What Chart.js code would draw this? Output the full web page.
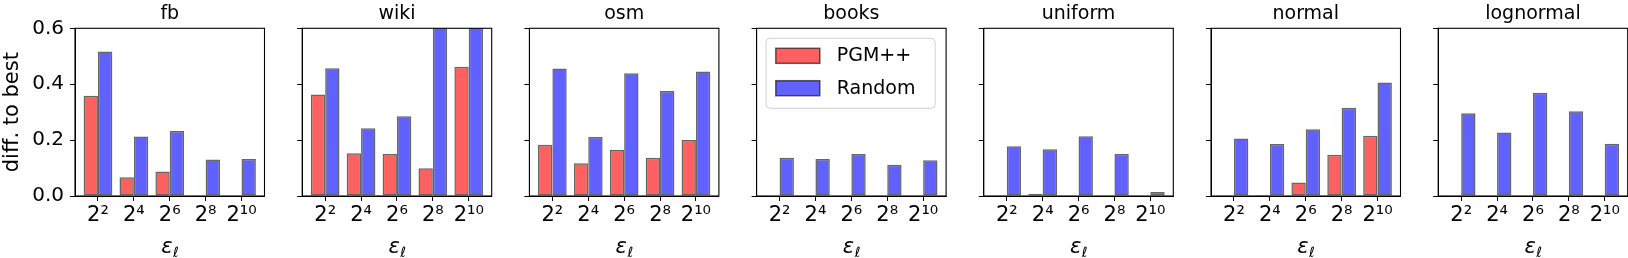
<!DOCTYPE html>
<html>
<head>
<meta charset="utf-8">
<script src="https://cdn.jsdelivr.net/npm/chart.js@4.4.0/dist/chart.umd.min.js"></script>
<style>
    html, body { margin: 0; padding: 0; background: #fff; overflow: hidden; }
    #wrap { position: relative; width: 1628px; height: 258px; overflow: hidden; }
    #wrap canvas { position: absolute; top: 0; }
</style>
</head>
<body>
<div id="wrap"></div>
<script>
// Data
const panelNames = ['fb', 'wiki', 'osm', 'books', 'uniform', 'normal', 'lognormal'];
const xTickLabels = ['2²', '2⁴', '2⁶', '2⁸', '2¹⁰'];
const yTickValues = [0, 0.2, 0.4, 0.6];
const seriesLabels = ['PGM++', 'Random'];

const pgmFb = [0.359, 0.067, 0.088, 0, 0];
const randomFb = [0.517, 0.213, 0.233, 0.131, 0.132];
const pgmWiki = [0.363, 0.153, 0.150, 0.099, 0.462];
const randomWiki = [0.457, 0.242, 0.285, 0.75, 0.8];
const pgmOsm = [0.183, 0.117, 0.165, 0.137, 0.200];
const randomOsm = [0.456, 0.211, 0.439, 0.376, 0.445];
const pgmBooks = [0, 0, 0, 0, 0];
const randomBooks = [0.137, 0.132, 0.150, 0.112, 0.128];
const pgmUniform = [0, 0.008, 0, 0, 0.002];
const randomUniform = [0.178, 0.167, 0.214, 0.150, 0.014];
const pgmNormal = [0, 0.004, 0.048, 0.148, 0.216];
const randomNormal = [0.206, 0.186, 0.239, 0.316, 0.406];
const pgmLognormal = [0, 0, 0, 0, 0];
const randomLognormal = [0.296, 0.227, 0.369, 0.303, 0.187];

const pgmSeries = [pgmFb, pgmWiki, pgmOsm, pgmBooks, pgmUniform, pgmNormal, pgmLognormal];
const randomSeries = [randomFb, randomWiki, randomOsm, randomBooks, randomUniform, randomNormal, randomLognormal];

// layout of the subplot grid
const PLOT_LEFT = 75;
const PLOT_STEP = 227.2;
const PLOT_W = 189.5;
const PLOT_TOP = 28.3;
const PLOT_BOTTOM = 196;
const CANVAS_H = 258;

const RED = 'rgba(255, 0, 0, 0.62)';
const BLUE = 'rgba(0, 0, 255, 0.62)';
const EDGE = 'rgba(0, 0, 0, 0.6)';
const FONT = 'DejaVu Sans';

Chart.defaults.font.family = FONT;
Chart.defaults.color = '#000';

// frame, title and x label of each subplot
const panelDecor = {
    id: 'panelDecor',
    afterDatasetsDraw(chart, args, opts) {
        const { ctx, chartArea: a } = chart;
        ctx.save();
        ctx.strokeStyle = '#000';
        ctx.lineWidth = 1.1;
        ctx.strokeRect(a.left, a.top, a.right - a.left, a.bottom - a.top);
        ctx.restore();
    },
    afterDraw(chart, args, opts) {
        const { ctx, chartArea: a } = chart;
        const cx = (a.left + a.right) / 2;
        ctx.save();
        ctx.fillStyle = '#000';
        ctx.textAlign = 'center';
        ctx.textBaseline = 'alphabetic';
        ctx.font = `19px ${FONT}`;
        ctx.fillText(opts.title, cx, 18.5);

        // epsilon with subscript ell
        ctx.textAlign = 'left';
        ctx.font = `italic 21px ${FONT}`;
        const w1 = ctx.measureText('ε').width;
        ctx.font = `italic 14px ${FONT}`;
        const w2 = ctx.measureText('ℓ').width;
        const x0 = cx - (w1 + w2) / 2;
        ctx.font = `italic 21px ${FONT}`;
        ctx.fillText('ε', x0, 253);
        ctx.font = `italic 14px ${FONT}`;
        ctx.fillText('ℓ', x0 + w1 + 0.5, 257);
        ctx.restore();
    }
};

// boxed legend like matplotlib's
const boxLegend = {
    id: 'boxLegend',
    afterDraw(chart) {
        const { ctx, chartArea: a } = chart;
        const left = a.left + 9.5, top = a.top + 10;
        ctx.save();
        ctx.beginPath();
        ctx.roundRect(left, top, 169, 70, 4);
        ctx.fillStyle = 'rgba(255,255,255,0.8)';
        ctx.fill();
        ctx.strokeStyle = '#d0d0d0';
        ctx.lineWidth = 1;
        ctx.stroke();

        ctx.font = `19px ${FONT}`;
        ctx.textBaseline = 'middle';
        ctx.textAlign = 'left';
        chart.data.datasets.forEach((ds, i) => {
            const sy = top + 10 + i * 32.4;
            ctx.fillStyle = ds.backgroundColor;
            ctx.fillRect(left + 9.7, sy, 44, 15);
            ctx.strokeStyle = ds.borderColor;
            ctx.lineWidth = 1.5;
            ctx.strokeRect(left + 9.7, sy, 44, 15);
            ctx.fillStyle = '#000';
            ctx.fillText(ds.label, left + 70.7, sy + 8);
        });
        ctx.restore();
    }
};

function makePanel(i) {
    const axisW = i === 0 ? 75 : 20;
    const plotLeft = PLOT_LEFT + PLOT_STEP * i;
    const canvasLeft = Math.floor(plotLeft - axisW);
    const padLeft = plotLeft - axisW - canvasLeft;
    const canvasW = Math.ceil(padLeft + axisW + PLOT_W + 3);
    const padRight = canvasW - (padLeft + axisW + PLOT_W);

    const canvas = document.createElement('canvas');
    canvas.width = canvasW;
    canvas.height = CANVAS_H;
    canvas.style.left = canvasLeft + 'px';
    canvas.style.width = canvasW + 'px';
    canvas.style.height = CANVAS_H + 'px';
    document.getElementById('wrap').appendChild(canvas);

    const toPoints = values => values.map((v, k) => ({ x: k, y: v }));

    const plugins = [panelDecor];
    if (i === 3) plugins.push(boxLegend);

    new Chart(canvas, {
        type: 'bar',
        data: {
            datasets: [
                {
                    label: seriesLabels[0],
                    data: toPoints(pgmSeries[i]),
                    backgroundColor: RED,
                    borderColor: EDGE,
                    borderWidth: 1.5,
                    borderSkipped: false,
                    categoryPercentage: 0.8,
                    barPercentage: 1.0
                },
                {
                    label: seriesLabels[1],
                    data: toPoints(randomSeries[i]),
                    backgroundColor: BLUE,
                    borderColor: EDGE,
                    borderWidth: 1.5,
                    borderSkipped: false,
                    categoryPercentage: 0.8,
                    barPercentage: 1.0
                }
            ]
        },
        options: {
            responsive: false,
            animation: false,
            devicePixelRatio: 1,
            layout: { padding: { top: PLOT_TOP, bottom: 0, left: padLeft, right: padRight } },
            plugins: {
                legend: { display: false },
                tooltip: { enabled: false },
                panelDecor: { title: panelNames[i] }
            },
            scales: {
                x: {
                    type: 'linear',
                    offset: false,
                    min: -0.64,
                    max: 4.64,
                    afterBuildTicks: axis => { axis.ticks = xTickLabels.map((_, k) => ({ value: k })); },
                    afterFit: scale => { scale.height = CANVAS_H - PLOT_BOTTOM; },
                    ticks: {
                        callback: (v, idx) => xTickLabels[idx],
                        autoSkip: false,
                        maxRotation: 0,
                        padding: 2,
                        font: { size: 21 },
                        color: '#000'
                    },
                    grid: { offset: false, drawOnChartArea: false, drawTicks: true, tickLength: 5, color: '#000', lineWidth: 1 },
                    border: { display: true, color: '#000', width: 1 }
                },
                y: {
                    min: 0,
                    max: 0.6,
                    afterBuildTicks: axis => { axis.ticks = yTickValues.map(v => ({ value: v })); },
                    afterFit: scale => { scale.width = axisW; },
                    ticks: {
                        display: i === 0,
                        callback: v => v.toFixed(1),
                        padding: 6,
                        font: { size: 20 },
                        color: '#000'
                    },
                    title: {
                        display: i === 0,
                        text: 'diff. to best',
                        font: { size: 21 },
                        color: '#000',
                        padding: 0
                    },
                    grid: { drawOnChartArea: false, drawTicks: true, tickLength: 5, color: '#000', lineWidth: 1 },
                    border: { display: true, color: '#000', width: 1 }
                }
            }
        },
        plugins: plugins
    });
}

panelNames.forEach((_, i) => makePanel(i));
</script>
</body>
</html>
